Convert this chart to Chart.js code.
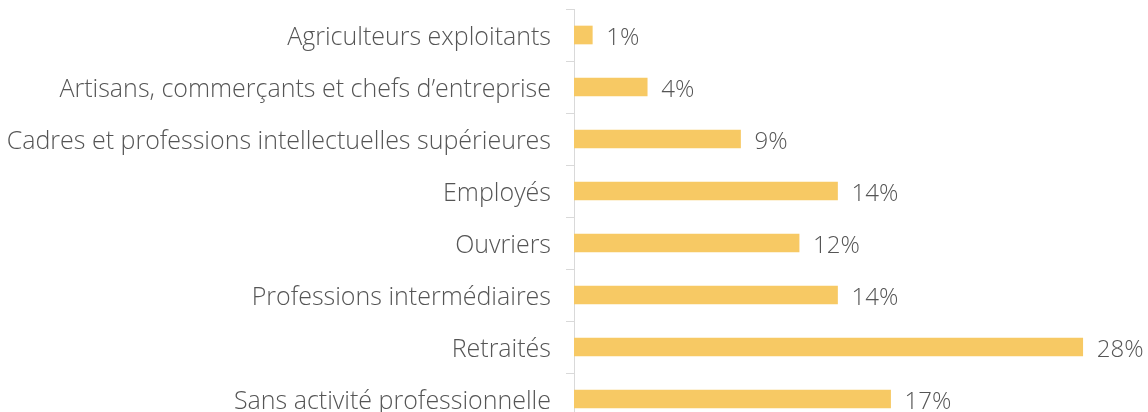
<!DOCTYPE html>
<html lang="fr">
<head>
<meta charset="utf-8">
<title>Catégories socioprofessionnelles</title>
<script src="https://cdn.jsdelivr.net/npm/chart.js@4.4.1/dist/chart.umd.min.js"></script>
<style>
  html, body { margin: 0; padding: 0; background: #ffffff; overflow: hidden; }
  #wrap { position: relative; width: 1148px; height: 426px; }
</style>
</head>
<body>
<div id="wrap"><canvas id="csp"></canvas></div>
<script>
// --- données ---
const categories = [
    "Agriculteurs exploitants",
    "Artisans, commerçants et chefs d\u2019entreprise",
    "Cadres et professions intellectuelles supérieures",
    "Employés",
    "Ouvriers",
    "Professions intermédiaires",
    "Retraités",
    "Sans activité professionnelle"
];
const shares = [1.0, 4.0, 9.1, 14.4, 12.3, 14.4, 27.8, 17.3];
const shareLabels = ["1%", "4%", "9%", "14%", "12%", "14%", "28%", "17%"];

const FONT = "'Open Sans', 'Lato', sans-serif";
const TEXT_COLOR = '#555555';

// petites étiquettes à droite des barres
const valueLabels = {
    id: 'valueLabels',
    afterDatasetsDraw(chart) {
        const ctx = chart.ctx;
        const meta = chart.getDatasetMeta(0);
        ctx.save();
        ctx.font = '300 24px ' + FONT;
        ctx.fillStyle = TEXT_COLOR;
        ctx.textAlign = 'left';
        ctx.textBaseline = 'middle';
        meta.data.forEach((bar, i) => {
            ctx.fillText(shareLabels[i], bar.x + 14, bar.y + 3);
        });
        ctx.restore();
    }
};

const ctx = document.getElementById('csp').getContext('2d');
new Chart(ctx, {
    type: 'bar',
    data: {
        labels: categories,
        datasets: [{
            data: shares,
            backgroundColor: '#F7C964',
            borderWidth: 0,
            barThickness: 18
        }]
    },
    options: {
        indexAxis: 'y',
        responsive: true,
        maintainAspectRatio: false,
        animation: false,
        layout: { padding: { top: 9, right: 25, bottom: 1, left: 0 } },
        scales: {
            x: { display: false, min: 0, max: 30 },
            y: {
                afterFit: (scale) => {
                    scale.width = 574;
                    scale.paddingTop = 0;
                    scale.paddingBottom = 0;
                },
                border: { display: true, color: '#D9D9D9', width: 1 },
                grid: {
                    drawOnChartArea: false,
                    drawTicks: true,
                    tickLength: 8,
                    color: '#D9D9D9',
                    offset: true
                },
                ticks: {
                    color: TEXT_COLOR,
                    padding: 15,
                    labelOffset: 3,
                    font: { family: FONT, size: 25, weight: '300' }
                }
            }
        },
        plugins: {
            legend: { display: false },
            tooltip: { enabled: false }
        }
    },
    plugins: [valueLabels]
});
</script>
</body>
</html>
